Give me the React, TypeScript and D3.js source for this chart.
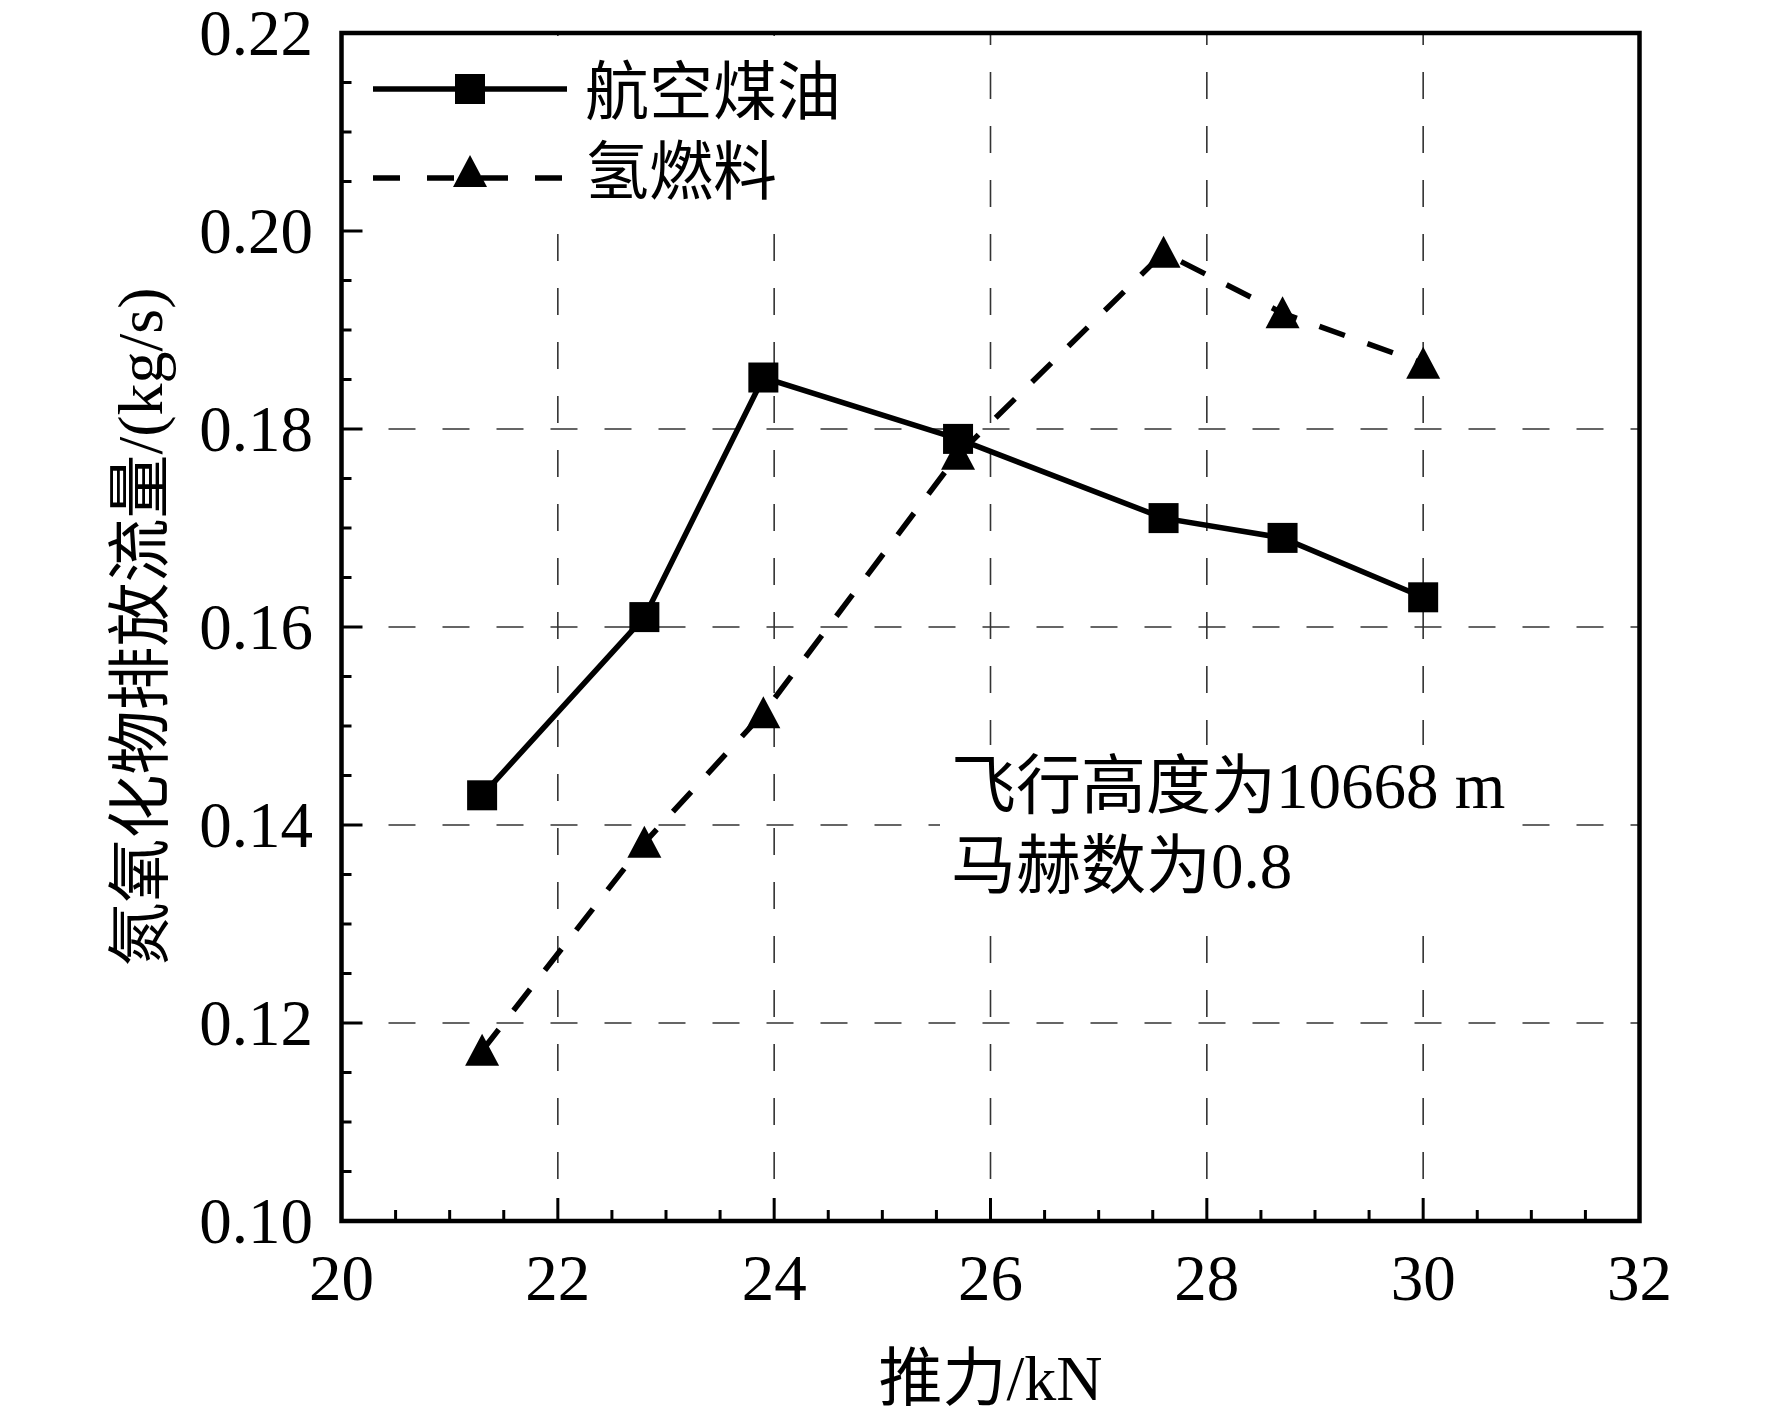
import * as d3 from 'd3'
import React from 'react'

// thrust (kN)
const thrust = [21.3, 22.8, 23.9, 25.7, 27.6, 28.7, 30.0]
// NOx emission flow (kg/s)
const jetFuel = [0.1430, 0.1610, 0.1852, 0.1790, 0.1710, 0.1690, 0.1630]
const hydrogen = [0.1172, 0.1382, 0.1513, 0.1774, 0.1978, 0.1917, 0.1866]

const seriesNames = ['航空煤油', '氢燃料']
const xTicks = [20, 22, 24, 26, 28, 30, 32]
const yTicks = [0.10, 0.12, 0.14, 0.16, 0.18, 0.20, 0.22]
const xGrid = [22, 24, 26, 28, 30]
const yGrid = [0.12, 0.14, 0.16, 0.18]
const note = ['飞行高度为10668 m', '马赫数为0.8']
const xTitle = '推力/kN'
const yTitle = '氮氧化物排放流量/(kg/s)'

const W = 1772
const H = 1420
const left = 341.5
const right = 1639.5
const top = 33
const bottom = 1221
const font = "'Liberation Serif', 'Times New Roman', 'Noto Sans CJK SC', serif"

const App = () => {
  const x = d3.scaleLinear().domain([20, 32]).range([left, right])
  const y = d3.scaleLinear().domain([0.10, 0.22]).range([bottom, top])

  const line = d3.line<number>()
    .x((d, i) => x(thrust[i]))
    .y(d => y(d))

  const xMinor = d3.range(20, 32.001, 0.5)
  const yMinor = d3.range(0.10, 0.2201, 0.005)

  // triangle marker centred on its box
  const tri = (cx, cy) => `M${cx},${cy - 17}L${cx + 17},${cy + 15}L${cx - 17},${cy + 15}Z`

  return (
    <svg width={W} height={H} style={{ position: 'absolute', left: 0, top: 0, background: '#fff' }}>
      <rect width={W} height={H} fill="#fff" />

      {/* grid */}
      {xGrid.map(v => (
        <line key={'gx' + v} x1={x(v)} x2={x(v)} y1={top} y2={bottom - 20}
          stroke="#333" strokeWidth={1.6} strokeDasharray="27,27" strokeDashoffset={15} />
      ))}
      {yGrid.map(v => (
        <line key={'gy' + v} x1={left + 22} x2={right} y1={y(v)} y2={y(v)}
          stroke="#333" strokeWidth={1.6} strokeDasharray="27,27" strokeDashoffset={-25} />
      ))}

      {/* white boxes behind legend and note */}
      <rect x={347} y={36} width={525} height={182} fill="#fff" />
      <rect x={940} y={745} width={578} height={183} fill="#fff" />

      {/* hydrogen */}
      <path d={line(hydrogen) || ''} fill="none" stroke="#000" strokeWidth={5.5} strokeDasharray="27,24" />
      {hydrogen.map((v, i) => (
        <path key={'t' + i} d={tri(x(thrust[i]), y(v))} fill="#000" />
      ))}

      {/* jet fuel */}
      <path d={line(jetFuel) || ''} fill="none" stroke="#000" strokeWidth={5.5} />
      {jetFuel.map((v, i) => (
        <rect key={'s' + i} x={x(thrust[i]) - 15} y={y(v) - 15} width={30} height={30} fill="#000" />
      ))}

      {/* axes frame */}
      <rect x={left} y={top} width={right - left} height={bottom - top} fill="none" stroke="#000" strokeWidth={4.5} />

      {/* ticks */}
      {xMinor.map(v => {
        const major = Math.abs(v - Math.round(v / 2) * 2) < 1e-6
        return <line key={'xt' + v} x1={x(v)} x2={x(v)} y1={bottom} y2={bottom - (major ? 23 : 11)} stroke="#000" strokeWidth={3} />
      })}
      {yMinor.map(v => {
        const major = Math.abs(v * 100 - Math.round(v * 50) * 2) < 1e-6
        return <line key={'yt' + v} x1={left} x2={left + (major ? 21 : 10)} y1={y(v)} y2={y(v)} stroke="#000" strokeWidth={3} />
      })}

      {/* tick labels */}
      {xTicks.map(v => (
        <text key={'xl' + v} x={x(v)} y={1300} textAnchor="middle" fontFamily={font} fontSize={65}>{v}</text>
      ))}
      {yTicks.map(v => (
        <text key={'yl' + v} x={313} y={y(v) + 22} textAnchor="end" fontFamily={font} fontSize={65}>{v.toFixed(2)}</text>
      ))}

      {/* axis titles */}
      <text x={(left + right) / 2} y={1400} textAnchor="middle" fontFamily={font} fontSize={64}>{xTitle}</text>
      <text transform={`translate(162,${(top + bottom) / 2}) rotate(-90)`} textAnchor="middle" fontFamily={font} fontSize={64}>{yTitle}</text>

      {/* legend */}
      <line x1={373} x2={567} y1={89} y2={89} stroke="#000" strokeWidth={5.5} />
      <rect x={455} y={74} width={30} height={30} fill="#000" />
      <text x={585} y={114} fontFamily={font} fontSize={64}>{seriesNames[0]}</text>
      <line x1={373} x2={567} y1={178} y2={178} stroke="#000" strokeWidth={5.5} strokeDasharray="27,27" />
      <path d={tri(470, 172)} fill="#000" />
      <text x={585} y={194} fontFamily={font} fontSize={64}>{seriesNames[1]}</text>

      {/* note */}
      <text x={951} y={808} fontFamily={font} fontSize={65}>{note[0]}</text>
      <text x={951} y={888} fontFamily={font} fontSize={65}>{note[1]}</text>
    </svg>
  )
}

export default App
